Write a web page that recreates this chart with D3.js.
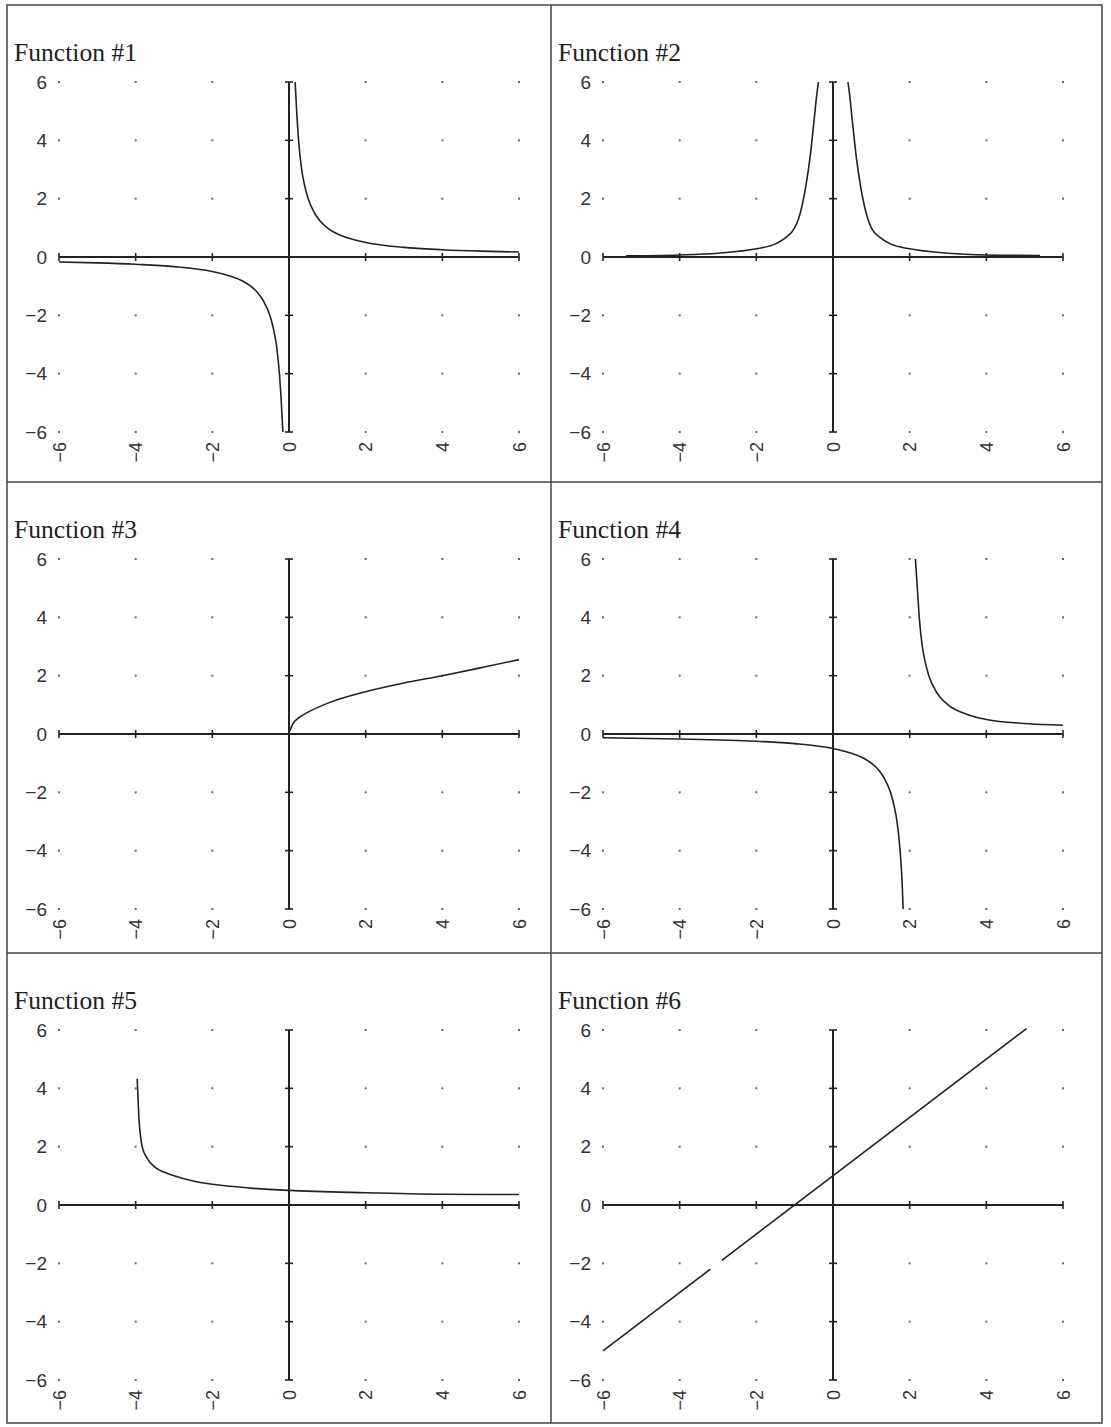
<!DOCTYPE html>
<html>
<head>
<meta charset="utf-8">
<script src="https://cdn.jsdelivr.net/npm/d3@7"></script>
<style>
  body { margin: 0; background: #fff; }
</style>
</head>
<body>
<svg id="mainsvg" width="1111" height="1427"></svg>
<script>
// tick values shared by every panel
const ticks = [-6, -4, -2, 0, 2, 4, 6];
const titles = ['Function #1', 'Function #2', 'Function #3', 'Function #4', 'Function #5', 'Function #6'];

// points, [x, y]
const f1Left = [[-6, -0.17], [-5, -0.2], [-4, -0.25], [-3, -0.33], [-2, -0.5], [-1.5, -0.67], [-1.2, -0.83], [-1, -1], [-0.8, -1.25], [-0.67, -1.5], [-0.5, -2], [-0.4, -2.5], [-0.33, -3], [-0.25, -4], [-0.2, -5], [-0.16, -6]];
const f1Right = [[0.16, 6], [0.2, 5], [0.25, 4], [0.33, 3], [0.4, 2.5], [0.5, 2], [0.67, 1.5], [0.8, 1.25], [1, 1], [1.2, 0.83], [1.5, 0.67], [2, 0.5], [3, 0.33], [4, 0.25], [5, 0.2], [6, 0.17]];
const f2Left = [[-5.4, 0.04], [-4, 0.07], [-3, 0.13], [-2, 0.28], [-1.5, 0.45], [-1.25, 0.65], [-1, 1], [-0.9, 1.3], [-0.8, 1.8], [-0.7, 2.5], [-0.6, 3.4], [-0.5, 4.6], [-0.42, 5.6], [-0.38, 6]];
const f2Right = [[0.39, 6], [0.43, 5.6], [0.51, 4.6], [0.61, 3.4], [0.71, 2.5], [0.81, 1.8], [0.91, 1.3], [1, 1], [1.25, 0.65], [1.5, 0.45], [2, 0.28], [3, 0.13], [4, 0.07], [5.4, 0.05]];
const f3Curve = [[0.02, 0.1], [0.1, 0.35], [0.25, 0.55], [0.5, 0.75], [1, 1.05], [2, 1.45], [3, 1.75], [4, 2.0], [5, 2.27], [6, 2.55]];
const f4Left = [[-6, -0.13], [-4, -0.17], [-2, -0.25], [-1, -0.33], [0, -0.5], [0.5, -0.67], [0.8, -0.83], [1, -1], [1.2, -1.25], [1.33, -1.5], [1.5, -2], [1.6, -2.5], [1.67, -3], [1.75, -4], [1.8, -5], [1.83, -6]];
const f4Right = [[2.15, 6], [2.2, 5], [2.25, 4], [2.33, 3], [2.4, 2.5], [2.5, 2], [2.67, 1.5], [2.8, 1.25], [3, 1], [3.5, 0.67], [4, 0.5], [5, 0.36], [6, 0.3]];
const f5Curve = [[-3.96, 4.33], [-3.92, 3.1], [-3.83, 2.0], [-3.7, 1.6], [-3.5, 1.3], [-3.25, 1.12], [-3, 1.0], [-2.5, 0.82], [-2, 0.71], [-1, 0.58], [0, 0.5], [2, 0.42], [4, 0.37], [6, 0.36]];
const f6Low = [[-6, -5], [-3.2, -2.2]];
const f6High = [[-2.9, -1.9], [5.05, 6.05]];

const curves = [
  [f1Left, f1Right],
  [f2Left, f2Right],
  [f3Curve],
  [f4Left, f4Right],
  [f5Curve],
  [f6Low, f6High]
];

const svg = d3.select('#mainsvg');
const colX = [7, 551, 1102];
const rowY = [5, 482, 953, 1423];
const ink = '#222';

// outer frame and dividers
svg.append('rect')
  .attr('x', colX[0]).attr('y', rowY[0])
  .attr('width', colX[2] - colX[0]).attr('height', rowY[3] - rowY[0])
  .attr('fill', 'none').attr('stroke', '#444').attr('stroke-width', 1.5);
svg.append('line')
  .attr('x1', colX[1]).attr('x2', colX[1]).attr('y1', rowY[0]).attr('y2', rowY[3])
  .attr('stroke', '#444').attr('stroke-width', 1.5);
[rowY[1], rowY[2]].forEach(y => {
  svg.append('line')
    .attr('x1', colX[0]).attr('x2', colX[2]).attr('y1', y).attr('y2', y)
    .attr('stroke', '#444').attr('stroke-width', 1.5);
});

const fmt = d => (d < 0 ? '\u2212' + Math.abs(d) : String(d));

curves.forEach((segs, i) => {
  const ox = colX[i % 2], oy = rowY[Math.floor(i / 2)];
  const x = d3.scaleLinear().domain([-6, 6]).range([ox + 52, ox + 512]);
  const y = d3.scaleLinear().domain([-6, 6]).range([oy + 427, oy + 77]);
  const g = svg.append('g');

  g.append('text')
    .text(titles[i])
    .attr('x', ox + 7).attr('y', oy + 56)
    .attr('textLength', 123).attr('lengthAdjust', 'spacingAndGlyphs')
    .attr('font-family', 'Liberation Serif, serif')
    .attr('font-size', 25).attr('fill', '#222');

  // grid dots
  ticks.forEach(tx => ticks.forEach(ty => {
    if (tx === 0 || ty === 0) return;
    g.append('rect')
      .attr('x', x(tx) - 1).attr('y', y(ty) - 1)
      .attr('width', 2).attr('height', 2).attr('fill', '#666');
  }));

  // y tick labels
  const yAxis = d3.axisLeft(y).tickValues(ticks).tickSize(0).tickPadding(12).tickFormat(fmt);
  g.append('g').attr('transform', `translate(${x(-6)},0)`).call(yAxis)
    .call(a => a.select('.domain').remove())
    .selectAll('text')
    .attr('font-family', 'Liberation Sans, Arial, sans-serif')
    .attr('font-size', 19).attr('fill', '#333');

  // x tick labels, rotated
  const xAxis = d3.axisBottom(x).tickValues(ticks).tickSize(0).tickFormat(fmt);
  g.append('g').attr('transform', `translate(0,${y(-6)})`).call(xAxis)
    .call(a => a.select('.domain').remove())
    .selectAll('text')
    .attr('transform', 'rotate(-90)')
    .attr('text-anchor', 'end')
    .attr('x', -10).attr('y', 0).attr('dy', '0.35em')
    .attr('font-family', 'Liberation Sans, Arial, sans-serif')
    .attr('font-size', 18).attr('fill', '#333');

  // axes through the origin
  g.append('line')
    .attr('x1', x(-6)).attr('x2', x(6)).attr('y1', y(0)).attr('y2', y(0))
    .attr('stroke', ink).attr('stroke-width', 2);
  g.append('line')
    .attr('x1', x(0)).attr('x2', x(0)).attr('y1', y(-6)).attr('y2', y(6))
    .attr('stroke', ink).attr('stroke-width', 2);
  ticks.forEach(t => {
    g.append('line')
      .attr('x1', x(t)).attr('x2', x(t)).attr('y1', y(0) - 4).attr('y2', y(0) + 4)
      .attr('stroke', ink).attr('stroke-width', 1.6);
    g.append('line')
      .attr('x1', x(0) - 4).attr('x2', x(0) + 4).attr('y1', y(t)).attr('y2', y(t))
      .attr('stroke', ink).attr('stroke-width', 1.6);
  });

  const line = d3.line()
    .x(d => x(d[0])).y(d => y(d[1]))
    .curve(i === 5 ? d3.curveLinear : d3.curveMonotoneX);
  segs.forEach(s => {
    g.append('path')
      .attr('d', line(s))
      .attr('fill', 'none').attr('stroke', ink).attr('stroke-width', 1.6);
  });
});
</script>
</body>
</html>
